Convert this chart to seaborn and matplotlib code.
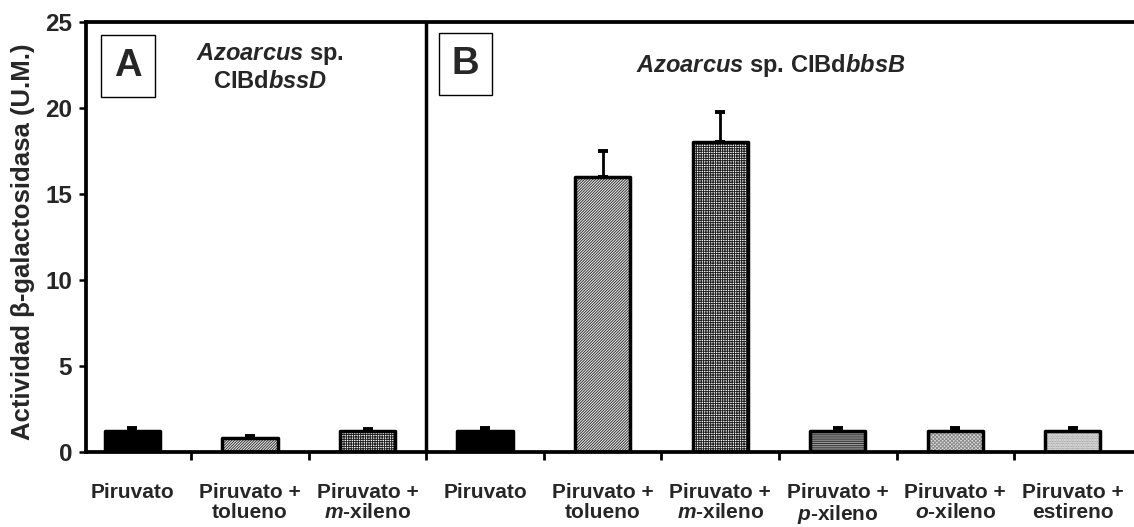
import matplotlib
matplotlib.use("Agg")
import matplotlib.pyplot as plt
from matplotlib.patches import Rectangle
import numpy as np
import pandas as pd
import seaborn as sns

# --- data -------------------------------------------------------------
cepas = ["A", "A", "A", "B", "B", "B", "B", "B", "B"]
condiciones = [
    "Piruvato",
    "Piruvato +\ntolueno",
    "Piruvato +\n$\\mathit{m}$-xileno",
    "Piruvato",
    "Piruvato +\ntolueno",
    "Piruvato +\n$\\mathit{m}$-xileno",
    "Piruvato +\n$\\mathit{p}$-xileno",
    "Piruvato +\n$\\mathit{o}$-xileno",
    "Piruvato +\nestireno",
]
actividad = [1.2, 0.8, 1.25, 1.2, 16.0, 18.0, 1.2, 1.2, 1.2]
error = [0.2, 0.15, 0.1, 0.18, 1.5, 1.8, 0.17, 0.17, 0.17]
y_ticks = [0, 5, 10, 15, 20, 25]

# fill style per bar: (face colour, hatch, hatch colour)
rellenos = [
    ("black", "", "black"),
    ("#f4f4f4", "////////////", "#303030"),
    ("white", "+++++++", "#202020"),
    ("black", "", "black"),
    ("#f4f4f4", "////////////", "#303030"),
    ("white", "+++++++", "#202020"),
    ("#a8a8a8", "---------", "#303030"),
    ("#e0e0e0", "xxxxxxxxx", "#8a8a8a"),
    ("#efefef", "..........", "#8a8a8a"),
]

df = pd.DataFrame({
    "clave": [f"{c}{i}" for i, c in enumerate(cepas)],
    "cepa": cepas,
    "condicion": condiciones,
    "actividad": actividad,
    "error": error,
})

# --- style ------------------------------------------------------------
sns.set_style("white")
plt.rcParams["font.family"] = ["Liberation Sans", "DejaVu Sans"]
plt.rcParams["font.weight"] = "bold"
plt.rcParams["mathtext.fontset"] = "custom"
plt.rcParams["mathtext.rm"] = "Liberation Sans:bold"
plt.rcParams["mathtext.bf"] = "Liberation Sans:bold"
plt.rcParams["mathtext.it"] = "Liberation Sans:italic:bold"
plt.rcParams["hatch.linewidth"] = 0.7

fig = plt.figure(figsize=(11.34, 5.27), dpi=100)
ax = fig.add_axes([0.0758, 0.1423, 1 - 0.0758, 0.958 - 0.1423])

sns.barplot(data=df, x="clave", y="actividad", order=list(df["clave"]),
            errorbar=None, width=0.47, ax=ax, color="white")

# patterned fills, then a heavy black outline on top of each bar
centros = []
for p, (fc, hatch, hc) in zip(ax.patches, rellenos):
    p.set_facecolor(fc)
    p.set_hatch(hatch)
    p.set_edgecolor(hc)
    p.set_linewidth(0)
    ax.add_patch(Rectangle((p.get_x(), p.get_y()), p.get_width(), p.get_height(),
                           fill=False, edgecolor="black", linewidth=2.5,
                           joinstyle="round", zorder=3))
    centros.append(p.get_x() + p.get_width() / 2)

ax.errorbar(centros, df["actividad"], yerr=[np.zeros(len(df)), df["error"]],
            fmt="none", ecolor="black", elinewidth=2.0, capsize=3.6,
            capthick=2.8, zorder=2)

# axes
ax.set_ylim(0, 25)
ax.set_xlim(-0.395, 8.52)
ax.set_yticks(y_ticks)
ax.set_yticklabels([str(v) for v in y_ticks], fontsize=17.5, fontweight="bold")
ax.set_xticks(range(len(df)))
ax.set_xticklabels(df["condicion"], fontsize=15, fontweight="bold",
                   linespacing=1.06)
ax.set_xticks(np.arange(0.5, len(df) - 1, 1.0), minor=True)
ax.tick_params(axis="x", which="major", length=0, pad=22.5)
ax.tick_params(axis="x", which="minor", length=6, width=2, direction="out",
               color="black", bottom=True)
ax.tick_params(axis="y", which="major", length=5, width=1.8, direction="out",
               color="black", left=True, pad=5)
ax.set_xlabel("")
ax.set_ylabel("Actividad β-galactosidasa (U.M.)", fontsize=18.5, fontweight="bold")
ax.yaxis.set_label_coords(-0.049, 0.49)

for side in ["left", "bottom", "top"]:
    ax.spines[side].set_visible(True)
    ax.spines[side].set_color("black")
    ax.spines[side].set_linewidth(2.7)
ax.spines["right"].set_visible(False)

# separator between the two strains
ax.axvline(2.5, color="black", linewidth=2.5, zorder=4, clip_on=False)

# panel letters
caja = dict(boxstyle="square,pad=0.34", facecolor="white", edgecolor="black",
            linewidth=1.0)
ax.text(0.040, 0.898, "A", transform=ax.transAxes, fontsize=27.5,
        fontweight="bold", ha="center", va="center", bbox=caja)
ax.text(0.362, 0.902, "B", transform=ax.transAxes, fontsize=27.5,
        fontweight="bold", ha="center", va="center", bbox=caja)

# strain titles
ax.text(1.17, 0.895, "$\\mathit{Azoarcus}$ sp.\nCIBd$\\mathit{bssD}$",
        transform=ax.get_xaxis_transform(), fontsize=17, fontweight="bold",
        ha="center", va="center", linespacing=1.15)
ax.text(5.43, 0.9, "$\\mathit{Azoarcus}$ sp. CIBd$\\mathit{bbsB}$",
        transform=ax.get_xaxis_transform(), fontsize=17, fontweight="bold",
        ha="center", va="center")

fig.savefig("out.png", dpi=100)
